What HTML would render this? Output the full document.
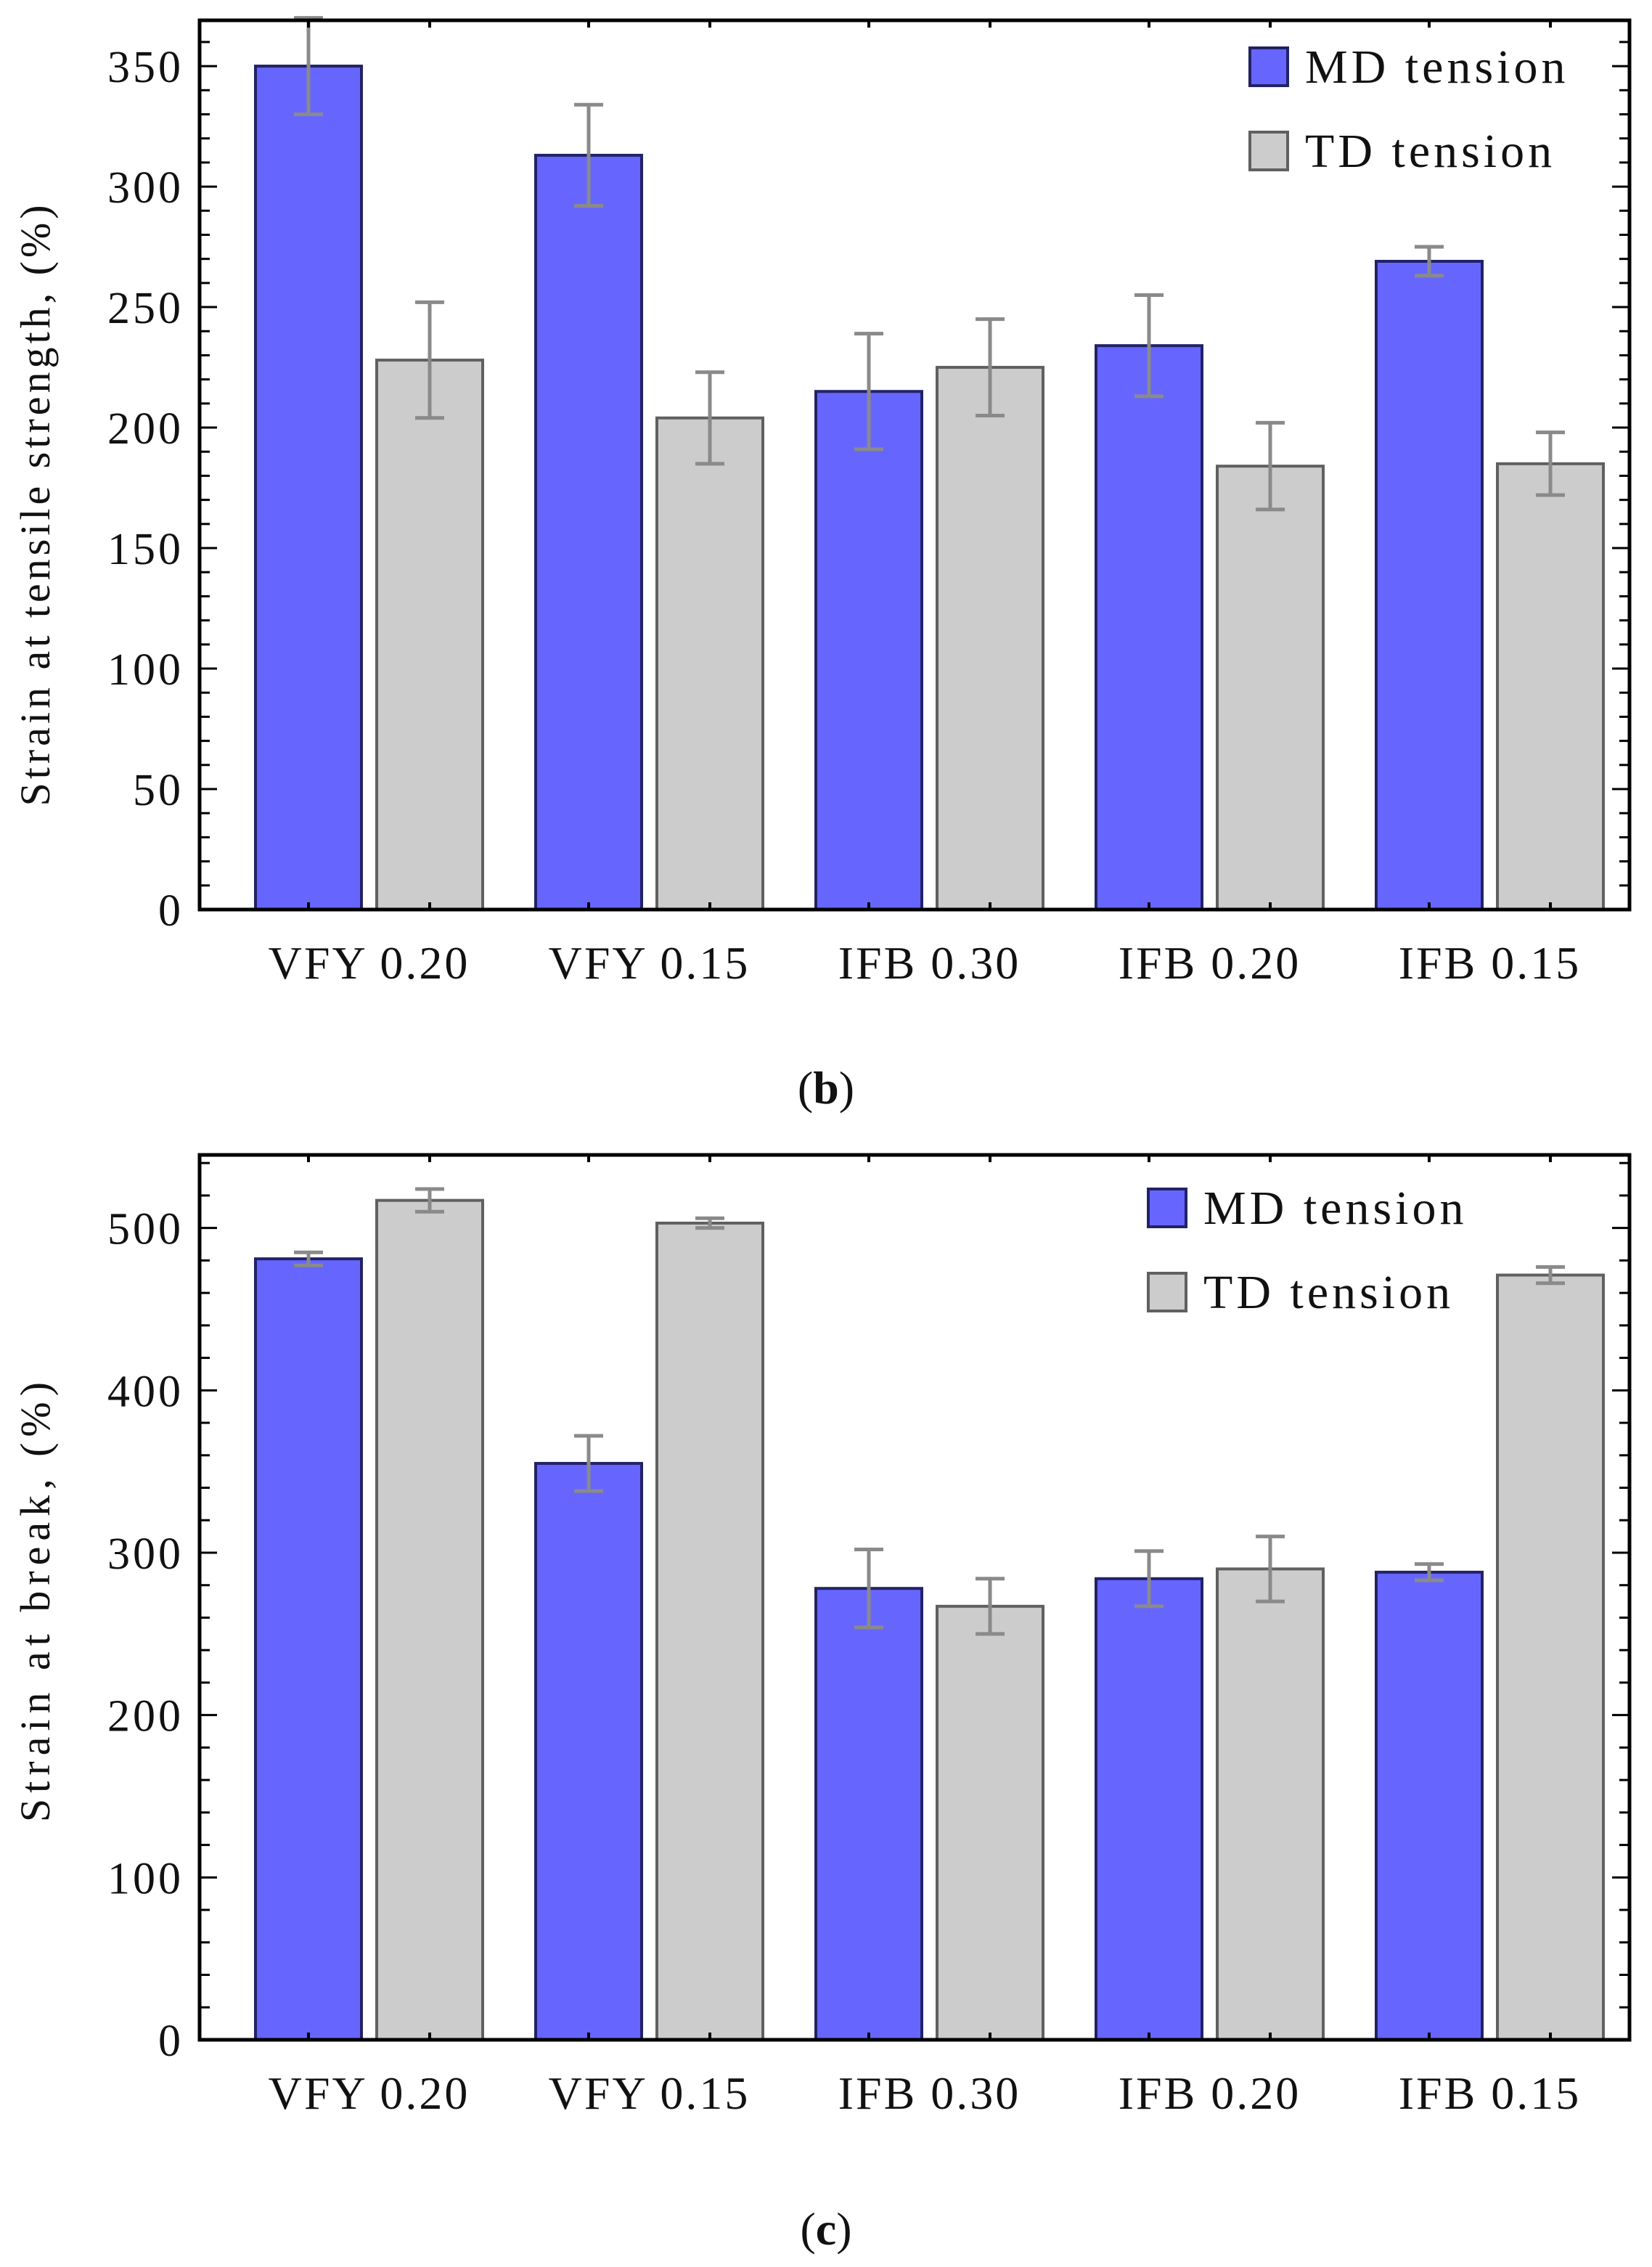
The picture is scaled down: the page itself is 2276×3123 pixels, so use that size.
<!DOCTYPE html>
<html><head><meta charset="utf-8"><style>
html,body{margin:0;padding:0;background:#fff;}
svg{display:block;}
text{font-family:"Liberation Serif",serif;fill:#111;}
</style></head><body>
<svg id="fig" width="2276" height="3123" viewBox="0 0 2276 3123" xmlns="http://www.w3.org/2000/svg"></svg>
<script>
const categories = ["VFY 0.20","VFY 0.15","IFB 0.30","IFB 0.20","IFB 0.15"];
const tsMD = [350,313,215,234,269];
const tsMDerr = [20,21,24,21,6];
const tsTD = [228,204,225,184,185];
const tsTDerr = [24,19,20,18,13];
const brMD = [481,355,278,284,288];
const brMDerr = [4,17,24,17,5];
const brTD = [517,503,267,290,471];
const brTDerr = [7,3,17,20,5];
const tsTicks = [0,50,100,150,200,250,300,350];
const brTicks = [0,100,200,300,400,500];

const NS="http://www.w3.org/2000/svg";
const svg=document.getElementById('fig');
function el(tag,attrs,parent){const e=document.createElementNS(NS,tag);for(const k in attrs)e.setAttribute(k,attrs[k]);(parent||svg).appendChild(e);return e;}

function chart(cfg){
  const g=el('g',{});
  
  
  const L=275,R=2245,T=cfg.top,B=cfg.bottom;
  const y=v=>B-(v/cfg.ymax)*(B-T);
  const groupW=386, firstMD=425, off=167, bw=146;
  const xMD=i=>firstMD+i*groupW;
  const xTD=i=>firstMD+off+i*groupW;
  for(let i=0;i<categories.length;i++){
    const pairs=[[xMD(i),cfg.md[i],cfg.mdErr[i],'#6666ff','#222266','md'],[xTD(i),cfg.td[i],cfg.tdErr[i],'#cccccc','#606060','td']];
    for(const [cx,v,e,fill,stroke,s] of pairs){
      const r=el('rect',{x:cx-bw/2,y:y(v),width:bw,height:B-y(v),fill:fill,stroke:stroke,'stroke-width':4},g);
      
      
      const eg=el('g',{stroke:'#8a8a8a','stroke-width':5},g);
      
      
      el('line',{x1:cx,x2:cx,y1:y(v+e),y2:y(v-e)},eg);
      el('line',{x1:cx-20,x2:cx+20,y1:y(v+e),y2:y(v+e)},eg);
      el('line',{x1:cx-20,x2:cx+20,y1:y(v-e),y2:y(v-e)},eg);
    }
    const t=el('text',{x:(xMD(i)+xTD(i))/2,y:B+95,'font-size':64,'letter-spacing':3,'text-anchor':'middle'},g);
    t.textContent=categories[i];
    
    
  }
  const f=el('rect',{x:L,y:T,width:R-L,height:B-T,fill:'none',stroke:'#000','stroke-width':5},g);
  
  
  for(let v=0;v<=cfg.ymax;v+=cfg.minor){
    const major=Math.abs(v/cfg.major-Math.round(v/cfg.major))<1e-6;
    const len=major?24:14;
    el('line',{x1:L,x2:L+len,y1:y(v),y2:y(v),stroke:'#000','stroke-width':3},g);
    el('line',{x1:R,x2:R-len,y1:y(v),y2:y(v),stroke:'#000','stroke-width':3},g);
  }
  for(const v of cfg.ticks){
    const t=el('text',{x:L-22,y:y(v)+22,'font-size':62,'letter-spacing':4,'text-anchor':'end',fill:'#222'},g);
    t.textContent=v;
    
    
  }
  for(let i=0;i<categories.length;i++){
    for(const cx of [xMD(i),xTD(i)]){
      el('line',{x1:cx,x2:cx,y1:B,y2:B-10,stroke:'#000','stroke-width':4},g);
      el('line',{x1:cx,x2:cx,y1:T,y2:T+10,stroke:'#000','stroke-width':4},g);
    }
  }
  const yt=el('text',{x:0,y:0,'font-size':58,'letter-spacing':cfg.titleLS,'text-anchor':'middle',fill:'#222',transform:`translate(68,${cfg.titleY}) rotate(-90)`},g);
  yt.textContent=cfg.ytitle;
  
  
  const lg=el('g',{},g);
  
  
  const items=[['MD tension','#6666ff','#222266'],['TD tension','#cccccc','#606060']];
  items.forEach((it,k)=>{
    const ly=cfg.legY+k*116;
    const e=el('g',{},lg);
    
    
    el('rect',{x:cfg.legX,y:ly,width:52,height:52,fill:it[1],stroke:it[2],'stroke-width':4},e);
    const t=el('text',{x:cfg.legX+76,y:ly+48,'font-size':66,'letter-spacing':5},e);
    t.textContent=it[0];
  });
  const c=el('text',{x:1138,y:cfg.capY,'font-size':64,'text-anchor':'middle'},g);
  c.innerHTML='(<tspan font-weight="bold">'+cfg.cap+'</tspan>)';
  
  
}
chart({name:'chart-tensile-strength',top:28,bottom:1253,ymax:369,major:50,minor:10,ticks:tsTicks,md:tsMD,mdErr:tsMDerr,td:tsTD,tdErr:tsTDerr,ytitle:'Strain at tensile strength, (%)',titleY:694,titleLS:5,legX:1722,legY:66,capY:1520,cap:'b'});
chart({name:'chart-break',top:1591,bottom:2810,ymax:545,major:100,minor:20,ticks:brTicks,md:brMD,mdErr:brMDerr,td:brTD,tdErr:brTDerr,ytitle:'Strain at break, (%)',titleY:2203,titleLS:8,legX:1582,legY:1638,capY:3092,cap:'c'});
</script>
</body></html>
